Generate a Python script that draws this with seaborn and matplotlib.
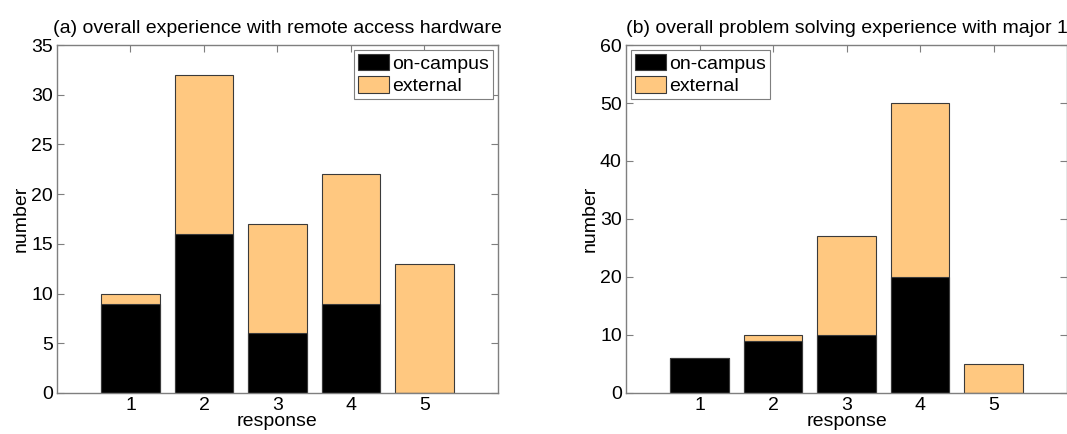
import matplotlib
matplotlib.use("Agg")
import matplotlib.pyplot as plt
from matplotlib.patches import Patch
import seaborn as sns

# survey responses (1-5)
responses = [1, 2, 3, 4, 5]

# (a) remote access hardware
a_campus = [9, 16, 6, 9, 0]
a_total = [10, 32, 17, 22, 13]

# (b) problem solving, major 1
b_campus = [6, 9, 10, 20, 0]
b_total = [6, 10, 27, 50, 5]

titles = ["(a) overall experience with remote access hardware",
          "(b) overall problem solving experience with major 1"]

orange = "#FFC880"
edge = "#3a3a3a"
spine_col = "#7f7f7f"
fs = 14

sns.set_style("ticks")
plt.rcParams["font.family"] = ["Liberation Sans", "DejaVu Sans"]
plt.rcParams["text.color"] = "black"
plt.rcParams["axes.labelcolor"] = "black"
plt.rcParams["xtick.labelcolor"] = "black"
plt.rcParams["ytick.labelcolor"] = "black"

fig = plt.figure(figsize=(10.67, 4.34), dpi=100)
ax1 = fig.add_axes([0.0534, 0.0945, 0.4133, 0.8018])
ax2 = fig.add_axes([0.5867, 0.0945, 0.4133, 0.8018])

panels = [(ax1, a_campus, a_total, 35, 5, "upper right"),
          (ax2, b_campus, b_total, 60, 10, "upper left")]

for i, (ax, campus, total, ymax, ystep, loc) in enumerate(panels):
    # total height drawn as external, on-campus overlaid at the bottom
    sns.barplot(x=responses, y=total, color=orange, edgecolor=edge,
                linewidth=0.8, saturation=1, errorbar=None,
                native_scale=True, width=0.8, ax=ax)
    sns.barplot(x=responses, y=campus, color="black", edgecolor=edge,
                linewidth=0.8, saturation=1, errorbar=None,
                native_scale=True, width=0.8, ax=ax)
    ax.set_xlim(0, 6)
    ax.set_ylim(0, ymax)
    ax.set_xticks(responses)
    ax.set_yticks(range(0, ymax + 1, ystep))
    ax.tick_params(direction="in", length=5, width=0.8, color=spine_col,
                   top=True, right=True, labelsize=fs, pad=3)
    for s in ax.spines.values():
        s.set_visible(True)
        s.set_color(spine_col)
        s.set_linewidth(1.0)
    ax.set_xlabel("response", fontsize=fs, labelpad=-1)
    ax.set_ylabel("number", fontsize=fs, labelpad=1)
    ax.set_title(titles[i], fontsize=fs, pad=9)

    handles = [Patch(facecolor="black", edgecolor=edge, linewidth=0.8),
               Patch(facecolor=orange, edgecolor=edge, linewidth=0.8)]
    leg = ax.legend(handles, ["on-campus", "external"], loc=loc,
                    fontsize=fs, fancybox=False, framealpha=1,
                    edgecolor=spine_col, borderaxespad=0.25,
                    handlelength=1.6, handleheight=0.9,
                    handletextpad=0.15, labelspacing=0.2, borderpad=0.2)
    leg.get_frame().set_linewidth(0.8)

plt.savefig("out.png", dpi=100)
